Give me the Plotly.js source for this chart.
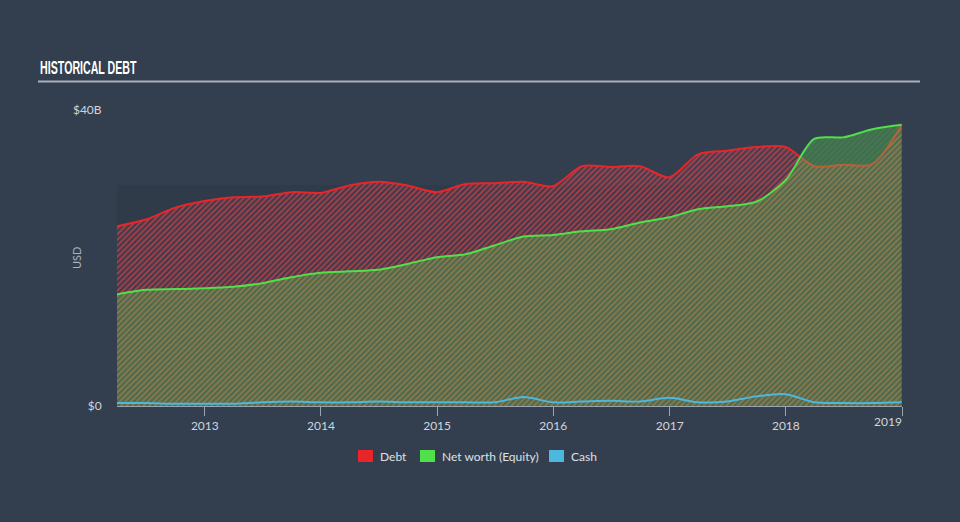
<!DOCTYPE html>
<html>
<head>
<meta charset="utf-8">
<script src="https://cdn.plot.ly/plotly-3.0.1.min.js"></script>
<style>html,body{margin:0;padding:0;background:#333f4f;}#chart{width:960px;height:522px;}</style>
</head>
<body>
<div id="chart"></div>
<script>
// Quarter-end dates
const dates = ['2012-03-31','2012-06-30','2012-09-30','2012-12-31','2013-03-31','2013-06-30','2013-09-30','2013-12-31',
  '2014-03-31','2014-06-30','2014-09-30','2014-12-31','2015-03-31','2015-06-30','2015-09-30','2015-12-31',
  '2016-03-31','2016-06-30','2016-09-30','2016-12-31','2017-03-31','2017-06-30','2017-09-30','2017-12-31',
  '2018-03-31','2018-06-30','2018-09-30','2018-12-31'];
// Values in billions USD
const debt = [24.3,25.2,26.8,27.7,28.2,28.3,28.9,28.8,29.8,30.3,29.8,28.9,30.0,30.1,30.3,29.7,
  32.4,32.3,32.4,30.9,34.0,34.5,35.0,35.0,32.4,32.6,32.7,38.0];
const equity = [15.1,15.7,15.8,15.9,16.1,16.6,17.4,18.0,18.2,18.4,19.2,20.1,20.5,21.7,22.9,23.1,
  23.6,23.9,24.8,25.5,26.6,27.0,27.6,30.5,36.1,36.3,37.4,38.0];
const cash = [0.4,0.4,0.3,0.3,0.3,0.5,0.6,0.5,0.5,0.6,0.5,0.5,0.5,0.5,1.2,0.5,
  0.6,0.7,0.6,1.1,0.5,0.6,1.3,1.6,0.5,0.4,0.4,0.5];
const yTickVals = [0, 40];
const yTickText = ['$0', '$40B'];
const xTickVals = ['2013-01-01','2014-01-01','2015-01-01','2016-01-01','2017-01-01','2018-01-01','2019-01-01'];
const xTickText = ['2013','2014','2015','2016','2017','2018',''];
const seriesNames = ['Debt', 'Net worth (Equity)', 'Cash'];
const seriesColors = ['#e8262a', '#4fe04a', '#4cb8de'];

const FONT = 'Lato, "Open Sans", sans-serif';

const traces = [
  {x: dates, y: debt, type: 'scatter', mode: 'lines', name: seriesNames[0], showlegend: false,
   line: {color: seriesColors[0], width: 2, shape: 'spline', smoothing: 0.8},
   fill: 'tozeroy', fillcolor: 'rgba(0,0,0,0)',
   fillpattern: {shape: '/', fgcolor: 'rgba(215,65,75,0.68)', bgcolor: 'rgba(120,50,70,0.15)', size: 4, solidity: 0.5}},
  {x: dates, y: equity, type: 'scatter', mode: 'lines', name: seriesNames[1], showlegend: false,
   line: {color: seriesColors[1], width: 2, shape: 'spline', smoothing: 0.8},
   fill: 'tozeroy', fillcolor: 'rgba(0,0,0,0)',
   fillpattern: {shape: '/', fgcolor: 'rgba(120,190,80,0.12)', bgcolor: 'rgba(90,205,80,0.32)', size: 4, solidity: 0.5}},
  {x: dates, y: cash, type: 'scatter', mode: 'lines', name: seriesNames[2], showlegend: false,
   line: {color: seriesColors[2], width: 2, shape: 'spline', smoothing: 0.8}},
];

// manual legend (pixel positions converted to paper coords)
const PL = 117, PW = 785, PB = 406, PH = 296;
const px2x = p => (p - PL) / PW;
const py2y = p => (PB - p) / PH;
const legendSwatchX = [358, 420, 549];
const legendShapes = [], legendAnn = [];
seriesNames.forEach((n, i) => {
  legendShapes.push({type: 'rect', xref: 'paper', yref: 'paper', x0: px2x(legendSwatchX[i]), x1: px2x(legendSwatchX[i] + 15),
    y0: py2y(462), y1: py2y(450), fillcolor: seriesColors[i], line: {width: 0}});
  legendAnn.push({text: n, xref: 'paper', yref: 'paper', x: px2x(legendSwatchX[i] + 20), y: py2y(456),
    xanchor: 'left', yanchor: 'middle', showarrow: false, font: {family: FONT, size: 12, color: '#dde1e6'}});
});

const layout = {
  width: 960, height: 522,
  paper_bgcolor: '#333f4f', plot_bgcolor: 'rgba(0,0,0,0)',
  margin: {l: 117, r: 58, t: 110, b: 116},
  font: {family: FONT, color: '#d0d5db', size: 12},
  showlegend: false,
  xaxis: {type: 'date', range: ['2012-03-31', '2019-01-01'], tickvals: xTickVals, ticktext: xTickText,
    ticks: 'outside', ticklen: 9, tickcolor: '#9aa4ae', tickwidth: 1,
    showline: true, linecolor: '#9aa4ae', linewidth: 1, showgrid: false, zeroline: false,
    tickfont: {family: FONT, size: 12, color: '#d0d5db'}, fixedrange: true},
  yaxis: {range: [0, 40], tickvals: yTickVals, ticktext: yTickText, showgrid: false, zeroline: false,
    ticks: 'outside', ticklen: 12, tickcolor: 'rgba(0,0,0,0)', showline: false,
    tickfont: {family: FONT, size: 12, color: '#d0d5db'}, fixedrange: true},
  shapes: [
    {type: 'rect', xref: 'paper', yref: 'paper', x0: 0, x1: 1, y0: 0, y1: py2y(185), fillcolor: '#2f3b49', line: {width: 0}, layer: 'below'},
    {type: 'line', xref: 'paper', yref: 'paper', x0: px2x(38), x1: px2x(920), y0: py2y(81.5), y1: py2y(81.5), line: {color: '#a9b0b8', width: 2}}
  ].concat(legendShapes),
  annotations: [
    {text: '<b>HISTORICAL DEBT</b>', xref: 'paper', yref: 'paper', x: px2x(38), y: py2y(67), xanchor: 'left', yanchor: 'middle',
     showarrow: false, font: {family: '"Liberation Sans", Arial, sans-serif', size: 19, color: '#ffffff'}},
    {text: 'USD', xref: 'paper', yref: 'paper', x: 0, xshift: -41, y: 0.5, textangle: -90, xanchor: 'center', yanchor: 'middle',
     showarrow: false, font: {family: FONT, size: 11, color: '#aab2bc'}},
    {text: '2019', xref: 'x', yref: 'paper', x: '2019-01-01', y: 0, yshift: -15, xanchor: 'right', yanchor: 'middle', xshift: 2,
     showarrow: false, font: {family: FONT, size: 12, color: '#d0d5db'}}
  ].concat(legendAnn)
};
Plotly.newPlot('chart', traces, layout, {displayModeBar: false, staticPlot: true}).then(() => {
  // condense the title horizontally to mimic the narrow display font
  const t = document.querySelector('.annotation[data-index="0"] text');
  if (t) {
    t.style.transformBox = 'fill-box';
    t.style.transformOrigin = 'left center';
    t.style.transform = 'scaleX(0.56)';
  }
});
</script>
</body>
</html>
